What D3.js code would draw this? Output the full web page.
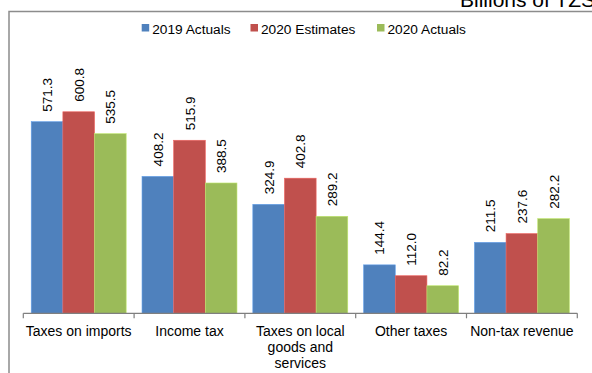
<!DOCTYPE html>
<html>
<head>
<meta charset="utf-8">
<script src="https://cdn.jsdelivr.net/npm/d3@7"></script>
<style>
  html, body { margin: 0; padding: 0; background: #fff; }
  svg { display: block; font-family: Arial, "Liberation Sans", sans-serif; }
</style>
</head>
<body>
<svg id="chart" width="592" height="373"></svg>
<script>
const categories = [
  ["Taxes on imports"],
  ["Income tax"],
  ["Taxes on local", "goods and", "services"],
  ["Other taxes"],
  ["Non-tax revenue"]
];
const categoryNames = categories.map(c => c.join(" "));
const seriesNames = ["2019 Actuals", "2020 Estimates", "2020 Actuals"];
const actuals2019 = [571.3, 408.2, 324.9, 144.4, 211.5];
const estimates2020 = [600.8, 515.9, 402.8, 112.0, 237.6];
const actuals2020 = [535.5, 388.5, 289.2, 82.2, 282.2];
const seriesColors = ["#4F81BD", "#C0504D", "#9BBB59"];
const unitTitle = "Billions of TZS";

const seriesValues = [actuals2019, estimates2020, actuals2020];
const svg = d3.select("#chart");

// Frame (chart area border, cropped on the right/bottom)
svg.append("path")
  .attr("d", "M9,373 V11.5 H592")
  .attr("fill", "none")
  .attr("stroke", "#8c8c8c")
  .attr("stroke-width", 1.5);

// Unit title (clipped at the top-right, as in the reference)
svg.append("text")
  .attr("x", 460)
  .attr("y", 7)
  .attr("font-size", 21)
  .attr("fill", "#000")
  .text(unitTitle);

const x0 = d3.scaleBand()
  .domain(categoryNames)
  .range([23.3, 577.3])
  .paddingInner(0.143)
  .paddingOuter(0.0715);

const x1 = d3.scaleBand()
  .domain(seriesNames)
  .range([0, x0.bandwidth()]);

const y = d3.scaleLinear()
  .domain([0, 700])
  .range([313.3, 78.5]);

const step = x0.step();

// Bars
const groups = svg.append("g").selectAll("g")
  .data(categoryNames)
  .join("g")
  .attr("transform", d => `translate(${x0(d)},0)`);

groups.selectAll("rect")
  .data((d, i) => seriesNames.map((s, j) => ({ s, v: seriesValues[j][i], j })))
  .join("rect")
  .attr("x", d => x1(d.s))
  .attr("y", d => y(d.v))
  .attr("width", x1.bandwidth())
  .attr("height", d => y(0) - y(d.v))
  .attr("fill", d => seriesColors[d.j])
  .attr("stroke", d => d3.color(seriesColors[d.j]).brighter(0.6))
  .attr("stroke-width", 0.6);

// Value labels (rotated)
groups.selectAll("text.val")
  .data((d, i) => seriesNames.map((s, j) => ({ s, v: seriesValues[j][i], j })))
  .join("text")
  .attr("class", "val")
  .attr("transform", d => `translate(${x1(d.s) + x1.bandwidth() / 2 + 5},${y(d.v) - 10}) rotate(-90)`)
  .attr("text-anchor", "start")
  .attr("font-size", 13.5)
  .attr("fill", "#000")
  .text(d => d.v.toFixed(1));

// Axis line + ticks at category boundaries
const axisG = svg.append("g");
const [r0, r1] = x0.range();
axisG.append("line")
  .attr("x1", r0).attr("x2", r1)
  .attr("y1", y(0)).attr("y2", y(0))
  .attr("stroke", "#7f7f7f").attr("stroke-width", 1.2);
d3.range(categoryNames.length + 1).forEach(i => {
  const xx = r0 + i * step;
  axisG.append("line")
    .attr("x1", xx).attr("x2", xx)
    .attr("y1", y(0)).attr("y2", y(0) + 5)
    .attr("stroke", "#7f7f7f").attr("stroke-width", 1.2);
});

// Category labels
categories.forEach((lines, i) => {
  const cx = x0(categoryNames[i]) + x0.bandwidth() / 2;
  const t = axisG.append("text")
    .attr("text-anchor", "middle")
    .attr("font-size", 14)
    .attr("fill", "#000");
  lines.forEach((ln, k) => {
    t.append("tspan")
      .attr("x", cx)
      .attr("y", 335.5 + k * 16.3)
      .text(ln);
  });
});

// Legend
const legendX = [141.7, 250.5, 377];
const legend = svg.append("g");
seriesNames.forEach((s, j) => {
  legend.append("rect")
    .attr("x", legendX[j]).attr("y", 24)
    .attr("width", 7.5).attr("height", 7.5)
    .attr("fill", seriesColors[j]);
  legend.append("text")
    .attr("x", legendX[j] + 10.5).attr("y", 33.5)
    .attr("font-size", 13.7)
    .attr("fill", "#000")
    .text(s);
});
</script>
</body>
</html>
